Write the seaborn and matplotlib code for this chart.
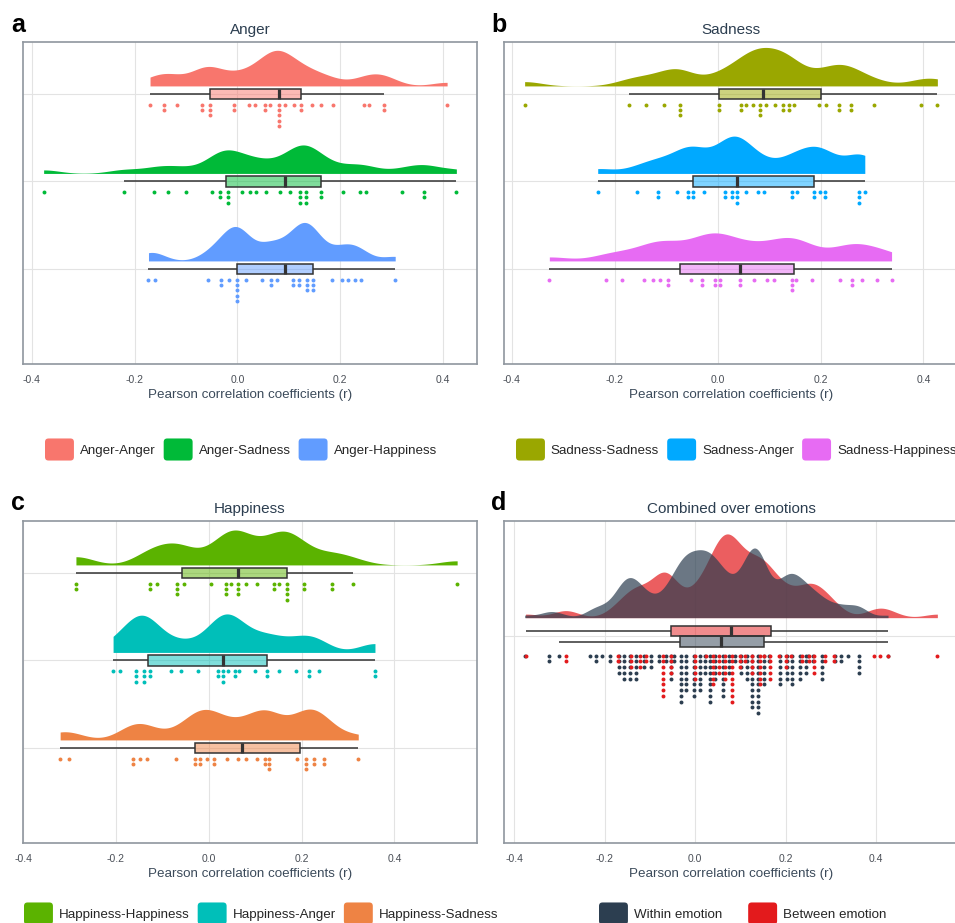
import numpy as np
import pandas as pd
import matplotlib
matplotlib.use("Agg")
import matplotlib.pyplot as plt
import seaborn as sns
from matplotlib.colors import to_rgba
from matplotlib.patches import Patch, FancyBboxPatch
from matplotlib.legend_handler import HandlerPatch

x_ticks = [-0.4, -0.2, 0.0, 0.2, 0.4]
x_label = "Pearson correlation coefficients (r)"

# correlations per pair
anger_anger = [-0.170, -0.142, -0.142, -0.117, -0.069, -0.069, -0.053, -0.053, -0.053,
               -0.006, -0.006, 0.023, 0.035, 0.054, 0.054, 0.063, 0.080, 0.080, 0.080,
               0.080, 0.080, 0.093, 0.110, 0.124, 0.124, 0.146, 0.163, 0.186, 0.247,
               0.256, 0.286, 0.286, 0.408]
anger_sadness = [-0.377, -0.221, -0.162, -0.135, -0.100, -0.049, -0.034, -0.034, -0.018,
                 -0.018, -0.018, 0.009, 0.025, 0.037, 0.056, 0.083, 0.102, 0.122, 0.122,
                 0.122, 0.134, 0.134, 0.134, 0.163, 0.163, 0.205, 0.239, 0.250, 0.320,
                 0.364, 0.364, 0.426]
anger_happiness = [-0.173, -0.160, -0.058, -0.032, -0.032, -0.016, 0.000, 0.000, 0.000,
                   0.000, 0.000, 0.017, 0.047, 0.065, 0.065, 0.078, 0.108, 0.108, 0.119,
                   0.119, 0.135, 0.135, 0.135, 0.147, 0.147, 0.147, 0.184, 0.203, 0.216,
                   0.229, 0.240, 0.307]
sadness_sadness = [-0.375, -0.172, -0.140, -0.105, -0.074, -0.074, -0.074, 0.003, 0.003,
                   0.045, 0.045, 0.056, 0.068, 0.083, 0.083, 0.083, 0.094, 0.111, 0.127,
                   0.127, 0.139, 0.139, 0.149, 0.197, 0.211, 0.236, 0.236, 0.259, 0.259,
                   0.304, 0.396, 0.427]
sadness_anger = [-0.233, -0.156, -0.116, -0.116, -0.078, -0.058, -0.058, -0.047, -0.047,
                 -0.027, 0.014, 0.014, 0.028, 0.028, 0.037, 0.037, 0.037, 0.056, 0.079,
                 0.091, 0.144, 0.144, 0.155, 0.187, 0.187, 0.198, 0.209, 0.209, 0.275,
                 0.275, 0.275, 0.286]
sadness_happiness = [-0.327, -0.216, -0.186, -0.143, -0.125, -0.111, -0.096, -0.096, -0.051,
                     -0.030, -0.030, -0.006, -0.006, 0.005, 0.005, 0.044, 0.044, 0.070,
                     0.096, 0.110, 0.144, 0.144, 0.144, 0.153, 0.184, 0.237, 0.261, 0.261,
                     0.281, 0.310, 0.338]
happiness_happiness = [-0.286, -0.286, -0.127, -0.127, -0.112, -0.068, -0.068, -0.068,
                       -0.053, 0.004, 0.038, 0.038, 0.038, 0.048, 0.063, 0.063, 0.063,
                       0.081, 0.104, 0.141, 0.141, 0.151, 0.168, 0.168, 0.168, 0.168,
                       0.205, 0.205, 0.265, 0.265, 0.310, 0.535]
happiness_anger = [-0.206, -0.191, -0.156, -0.156, -0.156, -0.139, -0.139, -0.139, -0.127,
                   -0.127, -0.082, -0.060, -0.023, 0.021, 0.021, 0.030, 0.030, 0.030,
                   0.041, 0.056, 0.056, 0.066, 0.099, 0.125, 0.125, 0.151, 0.189, 0.216,
                   0.216, 0.238, 0.358, 0.358]
happiness_sadness = [-0.320, -0.300, -0.163, -0.163, -0.148, -0.132, -0.071, -0.029, -0.029,
                     -0.019, -0.019, -0.003, 0.012, 0.012, 0.040, 0.063, 0.080, 0.105,
                     0.121, 0.121, 0.130, 0.130, 0.130, 0.191, 0.210, 0.210, 0.210, 0.227,
                     0.227, 0.249, 0.249, 0.322]

panels = [
    ("a", "Anger", ["Anger-Anger", "Anger-Sadness", "Anger-Happiness"],
     [anger_anger, anger_sadness, anger_happiness], ["#F8766D", "#00BA38", "#619CFF"]),
    ("b", "Sadness", ["Sadness-Sadness", "Sadness-Anger", "Sadness-Happiness"],
     [sadness_sadness, sadness_anger, sadness_happiness], ["#9AA700", "#00A9FF", "#E76BF3"]),
    ("c", "Happiness", ["Happiness-Happiness", "Happiness-Anger", "Happiness-Sadness"],
     [happiness_happiness, happiness_anger, happiness_sadness], ["#5BB300", "#00BFB9", "#EE8344"]),
]

# panel d pools the pairs; colours and legend text follow the figure as printed
pooled_red = anger_anger + sadness_sadness + happiness_happiness
pooled_grey = (anger_sadness + anger_happiness + sadness_anger + sadness_happiness
               + happiness_anger + happiness_sadness)
pooled_labels = ["Within emotion", "Between emotion"]
pooled_colors = ["#2C3E50", "#E31A1C"]

W, H = 955, 923
TEXT = "#2C3E50"


def kde(vals, adjust, n=512):
    v = np.asarray(vals, dtype=float)
    iqr = np.subtract(*np.percentile(v, [75, 25]))
    bw = 0.9 * min(v.std(ddof=1), iqr / 1.34) * len(v) ** -0.2 * adjust
    grid = np.linspace(v.min(), v.max(), n)
    z = (grid[:, None] - v[None, :]) / bw
    dens = np.exp(-0.5 * z ** 2).sum(axis=1) / (len(v) * bw * np.sqrt(2 * np.pi))
    return grid, dens


def stack_dots(vals, binwidth, start, step):
    v = np.sort(np.asarray(vals, dtype=float))
    xs, ys = [], []
    i = 0
    while i < len(v):
        j = i
        while j + 1 < len(v) and v[j + 1] - v[i] < binwidth:
            j += 1
        centre = (v[i] + v[j]) / 2
        for k in range(j - i + 1):
            xs.append(centre)
            ys.append(start + k * step)
        i = j + 1
    return np.array(xs), np.array(ys)


def style(ax, values, ylim, yticks, title):
    lo, hi = min(values), max(values)
    pad = 0.05 * (hi - lo)
    ax.set_xlim(lo - pad, hi + pad)
    ax.set_ylim(*ylim)
    ax.set_xticks(x_ticks)
    ax.set_xticklabels([f"{t:.1f}" for t in x_ticks])
    ax.set_yticks(yticks)
    ax.set_yticklabels([])
    ax.tick_params(length=0, labelsize=7.5, labelcolor="#4a4f57", pad=8)
    ax.grid(True, color="#e3e3e3", linewidth=0.8)
    ax.set_axisbelow(True)
    for sp in ax.spines.values():
        sp.set_visible(True)
        sp.set_color("#8f969e")
        sp.set_linewidth(1.2)
    ax.set_xlabel(x_label, fontsize=9.6, color="#3b4a5a", labelpad=3)
    ax.set_ylabel("")
    ax.set_title(title, fontsize=11, color=TEXT, pad=6)


def lighten_boxes(ax):
    for p in ax.patches:
        p.set_facecolor(to_rgba(p.get_facecolor(), 0.5))


class RoundedSquare(HandlerPatch):
    def create_artists(self, legend, orig_handle, xdescent, ydescent, width, height, fontsize, trans):
        r = 0.16 * height
        box = FancyBboxPatch((-xdescent + r, -ydescent + r), width - 2 * r, height - 2 * r,
                             boxstyle=f"round,pad={r}", facecolor=orig_handle.get_facecolor(),
                             edgecolor="none", transform=trans)
        return [box]


def add_legend(fig, labels, colors, x_px, y_px, colspace):
    handles = [Patch(facecolor=c, label=l) for l, c in zip(labels, colors)]
    fig.legend(handles=handles, loc="center left", bbox_to_anchor=(x_px / W, 1 - y_px / H),
               ncol=len(handles), frameon=False, fontsize=9.6, handlelength=2.17,
               handleheight=2.17, handletextpad=0.45, columnspacing=colspace,
               borderpad=0, borderaxespad=0, handler_map={Patch: RoundedSquare()})


sns.set_theme(style="white")
plt.rcParams["font.family"] = ["Liberation Sans", "DejaVu Sans"]

fig = plt.figure(figsize=(W / 100, H / 100), dpi=100)
boxes = {"a": (23, 42), "b": (504, 42), "c": (23, 521), "d": (504, 521)}
letters = {"a": (11, 31.5), "b": (491, 31.5), "c": (11, 510.5), "d": (491, 510.5)}
legend_pos = {"a": (45, 449.5), "b": (516, 449.5), "c": (24, 913.5), "d": (599, 913.5)}


def make_axes(key):
    left, top = boxes[key]
    return fig.add_axes([left / W, 1 - (top + 322) / H, 454 / W, 322 / H])


for key, title, names, series, colors in panels:
    ax = make_axes(key)
    curves = [kde(s, 0.5) for s in series]
    scale = 0.44 / max(d.max() for _, d in curves)
    for i, ((grid, dens), c) in enumerate(zip(curves, colors)):
        base = i - 0.092
        ax.fill_between(grid, base, base - dens * scale, color=c, linewidth=0)
    df = pd.DataFrame({
        "r": np.concatenate(series),
        "group": np.repeat(names, [len(s) for s in series]),
        "pos": np.repeat(np.arange(len(names), dtype=float), [len(s) for s in series]),
    })
    sns.boxplot(data=df, x="r", y="pos", hue="group", hue_order=names,
                palette=dict(zip(names, colors)), orient="h", native_scale=True,
                width=0.122, saturation=1, showfliers=False, showcaps=False,
                linecolor="#333333", linewidth=1.1, medianprops={"linewidth": 2.3},
                legend=False, ax=ax)
    lighten_boxes(ax)
    for i, (s, c) in enumerate(zip(series, colors)):
        xs, ys = stack_dots(s, 0.005, i + 0.122, 0.061)
        sns.scatterplot(x=xs, y=ys, color=c, s=8, linewidth=0, legend=False, ax=ax)
    style(ax, df["r"], (3.086, -0.594), [0, 1, 2], title)
    add_legend(fig, names, colors, *legend_pos[key], 0.6)

# panel d
ax = make_axes("d")
pooled = [pooled_red, pooled_grey]
pooled_keys = ["red", "grey"]
pooled_pal = {"red": pooled_colors[1], "grey": pooled_colors[0]}
curves = [kde(s, 0.5) for s in pooled]
scale = 0.96 / max(d.max() for _, d in curves)
for (grid, dens), k in zip(curves, pooled_keys):
    ax.fill_between(grid, -0.214, -0.214 - dens * scale, color=pooled_pal[k], alpha=0.7, linewidth=0)
dfd = pd.DataFrame({
    "r": np.concatenate(pooled),
    "set": np.repeat(pooled_keys, [len(s) for s in pooled]),
    "pos": 0.0,
})
sns.boxplot(data=dfd, x="r", y="pos", hue="set", hue_order=pooled_keys, palette=pooled_pal,
            orient="h", native_scale=True, width=0.24, gap=0, saturation=1,
            showfliers=False, showcaps=False, linecolor="#333333", linewidth=1.1,
            medianprops={"linewidth": 2.3}, legend=False, ax=ax)
lighten_boxes(ax)
for s, k in zip(pooled[::-1], pooled_keys[::-1]):
    xs, ys = stack_dots(s, 0.011, 0.22, 0.066)
    sns.scatterplot(x=xs, y=ys, color=pooled_pal[k], s=8, linewidth=0, legend=False, ax=ax)
style(ax, dfd["r"], (2.369, -1.322), [0], "Combined over emotions")
add_legend(fig, pooled_labels, pooled_colors, *legend_pos["d"], 1.95)

for key, (x, y) in letters.items():
    fig.text(x / W, 1 - y / H, key, fontsize=18, fontweight="bold", color="black", va="baseline")

fig.savefig("out.png", dpi=100)
